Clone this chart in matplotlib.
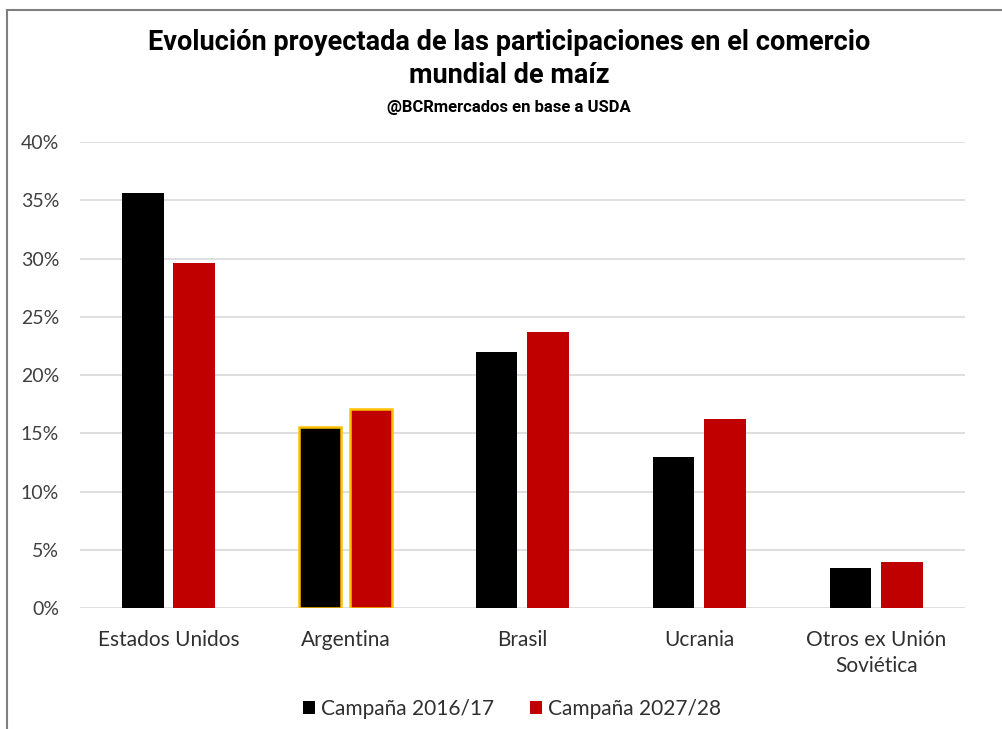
import numpy as np
import matplotlib.pyplot as plt
from matplotlib.lines import Line2D
from matplotlib.ticker import FuncFormatter

# 数据
categorias = ['Estados Unidos', 'Argentina', 'Brasil', 'Ucrania', 'Otros ex Unión\nSoviética']
campana_2016 = [0.356, 0.155, 0.220, 0.130, 0.0346]
campana_2027 = [0.296, 0.171, 0.237, 0.162, 0.0397]
series_labels = ['Campaña 2016/17', 'Campaña 2027/28']
color_negro = '#000000'
color_rojo = '#C00000'
borde_arg = '#FFC000'

fig = plt.figure(figsize=(10.02, 7.29), dpi=100)
ax = fig.add_axes([0.0798, 0.166, 0.883, 0.639])

x = np.arange(len(categorias))
w = 0.235
off = 0.145
bars1 = ax.bar(x - off, campana_2016, w, color=color_negro, label=series_labels[0], zorder=3)
bars2 = ax.bar(x + off, campana_2027, w, color=color_rojo, label=series_labels[1], zorder=3)

# Argentina con borde dorado
for b in (bars1[1], bars2[1]):
    b.set_edgecolor(borde_arg)
    b.set_linewidth(1.8)

ax.set_xlim(-0.5, len(categorias) - 0.5)
ax.set_ylim(0, 0.40)
ax.set_yticks(np.arange(0, 0.41, 0.05))
ax.yaxis.set_major_formatter(FuncFormatter(lambda v, p: f'{v*100:.0f}%'))
ax.grid(axis='y', color='#d9d9d9', linewidth=1.2, zorder=0)
ax.set_axisbelow(True)
for s in ax.spines.values():
    s.set_visible(False)
ax.tick_params(length=0)
ax.tick_params(axis='y', pad=15, labelsize=14, labelcolor='#404040')
ax.tick_params(axis='x', pad=16, labelsize=15, labelcolor='#303030')
ax.set_xticks(x)
ax.set_xticklabels(categorias, fontfamily='Lato', linespacing=1.35)
for t in ax.get_yticklabels():
    t.set_fontfamily('Lato')

# Título
titulo_font = 'Roboto'
fig.text(0.508, 0.942, 'Evolución proyectada de las participaciones en el comercio',
         ha='center', va='center', fontsize=19.5, fontweight='bold',
         family=titulo_font, color='#000000')
fig.text(0.508, 0.896, 'mundial de maíz',
         ha='center', va='center', fontsize=19.5, fontweight='bold',
         family=titulo_font, color='#000000')
fig.text(0.508, 0.852, '@BCRmercados en base a USDA',
         ha='center', va='center', fontsize=12, fontweight='bold',
         family=titulo_font, color='#000000')

# Leyenda
leg = fig.legend(handles=[bars1, bars2], labels=series_labels, loc='center',
                 bbox_to_anchor=(0.511, 0.028), ncol=2, frameon=False,
                 prop={'family': 'Lato', 'size': 15}, handlelength=0.58,
                 handleheight=0.6, handletextpad=0.3, columnspacing=1.7)
for t in leg.get_texts():
    t.set_color('#303030')

# Borde de la figura
fig.add_artist(Line2D([0.007, 0.007], [0.0, 0.986], transform=fig.transFigure,
                      color='#7f7f7f', linewidth=1.5))
fig.add_artist(Line2D([0.007, 1.0], [0.986, 0.986], transform=fig.transFigure,
                      color='#7f7f7f', linewidth=1.5))

fig.savefig('out.png', dpi=100, facecolor='white')
